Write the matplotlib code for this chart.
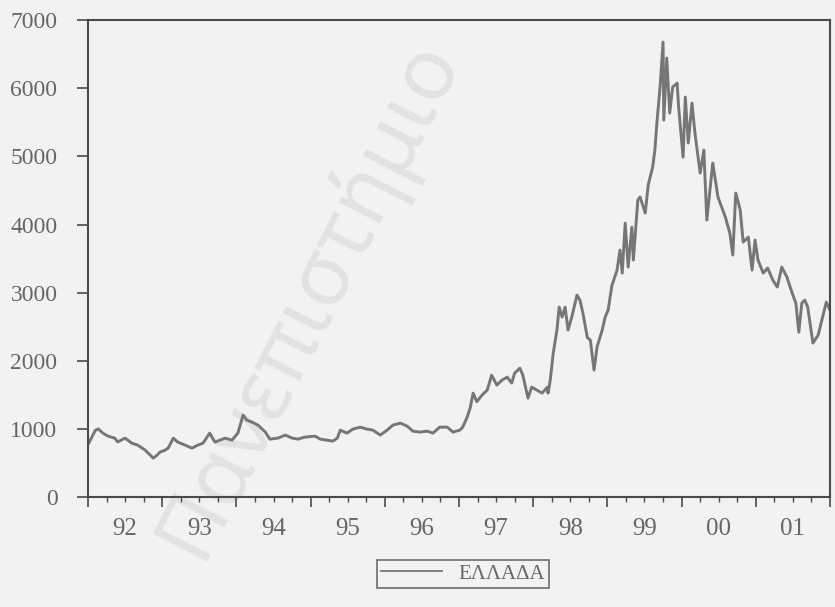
import matplotlib
matplotlib.use("Agg")
import matplotlib.pyplot as plt
from matplotlib.transforms import blended_transform_factory

# General index, decimal year -> index level
dates = [
    1992.01, 1992.10, 1992.14, 1992.20, 1992.27, 1992.36, 1992.40, 1992.50,
    1992.59, 1992.67, 1992.77, 1992.84, 1992.88, 1992.93, 1992.97, 1993.04,
    1993.08, 1993.15, 1993.21, 1993.31, 1993.40, 1993.48, 1993.55, 1993.64,
    1993.71, 1993.78, 1993.85, 1993.94, 1994.02, 1994.09, 1994.14, 1994.21,
    1994.29, 1994.39, 1994.45, 1994.56, 1994.66, 1994.75, 1994.83, 1994.92,
    1995.06, 1995.13, 1995.22, 1995.30, 1995.36, 1995.40, 1995.49, 1995.57,
    1995.67, 1995.76, 1995.84, 1995.94, 1996.03, 1996.11, 1996.21, 1996.30,
    1996.38, 1996.47, 1996.57, 1996.65, 1996.74, 1996.84, 1996.92, 1997.01,
    1997.05, 1997.11, 1997.15, 1997.19, 1997.24, 1997.31, 1997.38, 1997.44,
    1997.51, 1997.58, 1997.65, 1997.71, 1997.75, 1997.82, 1997.86, 1997.93,
    1997.98, 1998.05, 1998.12, 1998.19, 1998.20, 1998.23, 1998.27, 1998.32,
    1998.35, 1998.39, 1998.43, 1998.47, 1998.52, 1998.59, 1998.63, 1998.67,
    1998.73, 1998.77, 1998.82, 1998.86, 1998.93, 1998.97, 1999.01, 1999.06,
    1999.13, 1999.17, 1999.20, 1999.24, 1999.28, 1999.33, 1999.35, 1999.41,
    1999.44, 1999.51, 1999.55, 1999.61, 1999.64, 1999.67, 1999.71, 1999.75,
    1999.76, 1999.80, 1999.84, 1999.88, 1999.94, 1999.96, 2000.02, 2000.05,
    2000.09, 2000.14, 2000.18, 2000.25, 2000.30, 2000.34, 2000.42, 2000.49,
    2000.52, 2000.59, 2000.65, 2000.69, 2000.73, 2000.79, 2000.83, 2000.90,
    2000.95, 2000.99, 2001.03, 2001.10, 2001.16, 2001.23, 2001.29, 2001.35,
    2001.42, 2001.49, 2001.54, 2001.58, 2001.62, 2001.66, 2001.70, 2001.77,
    2001.84, 2001.89, 2001.95, 2002.00,
]
values = [
    792, 983, 1000, 939, 895, 866, 810, 866,
    792, 763, 690, 616, 572, 616, 660, 690,
    719, 866, 807, 763, 719, 763, 792, 939,
    807, 836, 866, 836, 939, 1203, 1130, 1101,
    1057, 954, 851, 866, 910, 866, 851, 880,
    895, 851, 836, 822, 866, 983, 939, 998,
    1027, 998, 983, 910, 983, 1057, 1086, 1042,
    968, 954, 968, 939, 1027, 1027, 954, 983,
    1027, 1174, 1306, 1526, 1400, 1497, 1570, 1790,
    1644, 1717, 1761, 1673, 1820, 1893, 1790, 1453,
    1614, 1570, 1526, 1614, 1526, 1717, 2113, 2451,
    2788, 2642, 2788, 2451, 2642, 2964, 2891, 2700,
    2340, 2304, 1864, 2201, 2451, 2642, 2744, 3100,
    3331, 3625, 3287, 4021, 3375, 3962, 3478, 4358,
    4403, 4168, 4580, 4843, 5092, 5532, 6017, 6677,
    5532, 6442, 5635, 6017, 6075, 5723, 4990, 5870,
    5195, 5782, 5342, 4755, 5092, 4065, 4901, 4403,
    4314, 4109, 3874, 3551, 4461, 4212, 3742, 3815,
    3331, 3771, 3478, 3287, 3361, 3184, 3082, 3375,
    3228, 2994, 2847, 2421, 2847, 2891, 2788, 2260,
    2377, 2597, 2861, 2744,
]

years = list(range(1992, 2003))
year_labels = ["92", "93", "94", "95", "96", "97", "98", "99", "00", "01"]
y_ticks = [0, 1000, 2000, 3000, 4000, 5000, 6000, 7000]
series_name = "ΕΛΛΑΔΑ"

plt.rcParams["font.family"] = ["Liberation Serif", "DejaVu Serif"]

paper = "#f2f2f2"
ink = "#4a4a4a"
text_grey = "#666666"
line_grey = "#767676"

fig = plt.figure(figsize=(8.35, 6.07), dpi=100, facecolor=paper)

# faint diagonal watermark behind the plot
fig.text(0.240, 0.075, "Πανεπιστήμιο", rotation=63,
         rotation_mode="anchor", ha="left", va="baseline",
         fontsize=62, color="#e2e2e2", family=["Noto Sans", "DejaVu Sans"],
         fontweight="bold", zorder=-1)

ax = fig.add_axes([0.1054, 0.181, 0.8886, 0.786])
ax.set_facecolor("none")

ax.plot(dates, values, color=line_grey, linewidth=2.1, label=series_name)

ax.set_xlim(years[0], years[-1])
ax.set_ylim(y_ticks[0], y_ticks[-1])

for side in ["left", "right", "top", "bottom"]:
    ax.spines[side].set_color(ink)
    ax.spines[side].set_linewidth(1.5)

ax.set_yticks(y_ticks)
ax.tick_params(axis="y", direction="out", length=8, width=1.2, color=ink,
               pad=14, labelsize=17, labelcolor=text_grey)

# year boundaries get long ticks, quarters short ones
ax.set_xticks(years)
ax.set_xticklabels([])
quarters = [y + q / 4 for y in years[:-1] for q in (1, 2, 3)]
ax.set_xticks(quarters, minor=True)
ax.tick_params(axis="x", which="major", direction="out", length=7,
               width=1.2, color=ink)
ax.tick_params(axis="x", which="minor", direction="out", length=3.5,
               width=1.0, color=ink)

trans = blended_transform_factory(ax.transData, ax.transAxes)
for y, lab in zip(years[:-1], year_labels):
    ax.text(y + 0.5, -0.044, lab, transform=trans, ha="center", va="top",
            fontsize=18, color=text_grey)

leg = fig.legend(loc="center", bbox_to_anchor=(0.5545, 0.0544),
                 frameon=True, fancybox=False, edgecolor=ink,
                 facecolor="none", fontsize=15, handlelength=2.9,
                 borderpad=0.2, handletextpad=0.8, borderaxespad=0,
                 labelcolor=text_grey)
leg.get_frame().set_linewidth(1.2)
leg.get_lines()[0].set_linewidth(1.3)

fig.savefig("out.png", dpi=100, facecolor=paper)
